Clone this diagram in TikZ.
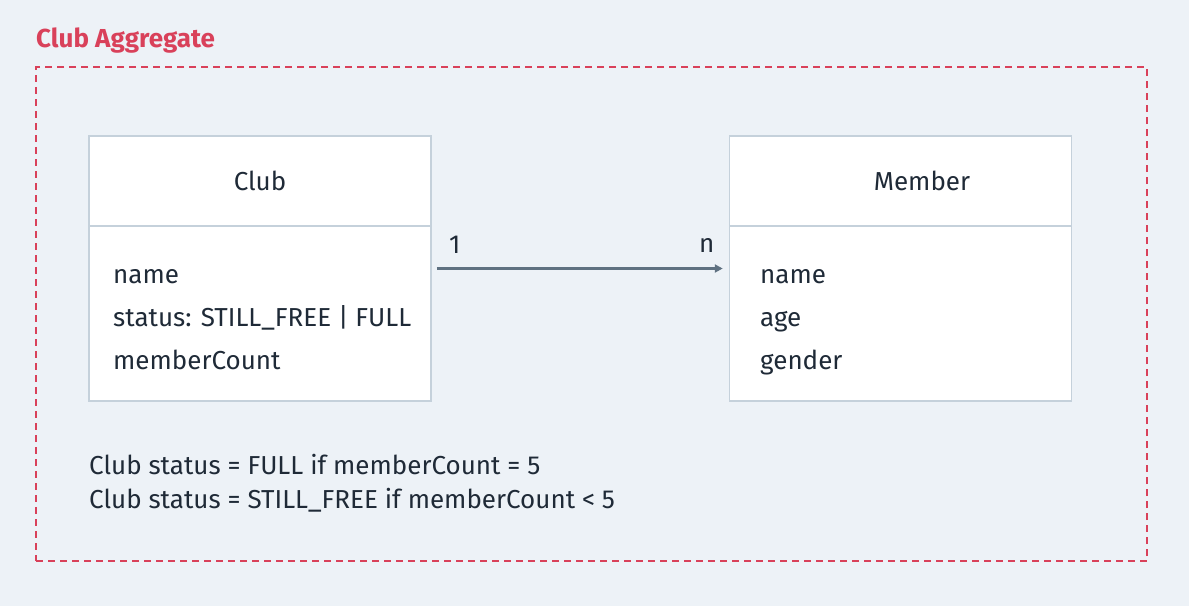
\documentclass[tikz,border=0pt]{standalone}
\usepackage{fontspec}
\setmainfont{Fira Sans}
\usetikzlibrary{arrows.meta}
\definecolor{bg}{HTML}{EDF2F7}
\definecolor{aggred}{HTML}{D9415A}
\definecolor{boxline}{HTML}{C5D1DB}
\definecolor{txt}{HTML}{1F2A37}
\definecolor{arrowc}{HTML}{5F7181}
\tikzset{
  classbox/.style={draw=boxline, line width=1.5pt, fill=white, minimum width=342pt, minimum height=265pt, inner sep=0pt},
  body/.style={font=\fontsize{26}{30}\selectfont, text=txt, inner sep=0pt},
  lbl/.style={body, anchor=base west},
  hdr/.style={body, anchor=base},
}
\begin{document}
\begin{tikzpicture}[x=1pt,y=-1pt]
\useasboundingbox[fill=bg] (0,0) rectangle (1189,606);
\node[font=\fontsize{26}{30}\selectfont\bfseries, text=aggred, anchor=base west, inner sep=0pt] (title) at (36,47) {Club Aggregate};
\node[draw=aggred, dash pattern=on 7pt off 5pt, line width=1.4pt, minimum width=1111pt, minimum height=494pt, inner sep=0pt] (agg) at (591.5,314) {};
\node[classbox] (club) at (260,268.5) {};
\node[classbox] (member) at (900.5,268.5) {};
\coordinate (cdl) at (89,226); \coordinate (cdr) at (431,226);
\coordinate (mdl) at (729,226); \coordinate (mdr) at (1072,226);
\draw[boxline, line width=1.5pt] (cdl) -- (cdr);
\draw[boxline, line width=1.5pt] (mdl) -- (mdr);
\node[hdr] (clubname) at (260,190) {Club};
\node[hdr] (membername) at (922,190) {Member};
\node[lbl] (c1) at (113,283) {name};
\node[lbl] (c2) at (113,326) {status: STILL\_FREE | FULL};
\node[lbl] (c3) at (113,369) {memberCount};
\node[lbl] (m1) at (760,283) {name};
\node[lbl] (m2) at (760,326) {age};
\node[lbl] (m3) at (760,369) {gender};
\draw[arrowc, line width=2.5pt, shorten <=5pt, shorten >=6pt, -{Triangle[length=8pt,width=8pt]}] (club.east) -- (member.west);
\node[lbl] (one) at (449,253) {1};
\node[lbl] (en) at (699,252) {n};
\node[lbl] (note1) at (89,474) {Club status = FULL if memberCount = 5};
\node[lbl] (note2) at (89,508) {Club status = STILL\_FREE if memberCount < 5};
\end{tikzpicture}
\end{document}
